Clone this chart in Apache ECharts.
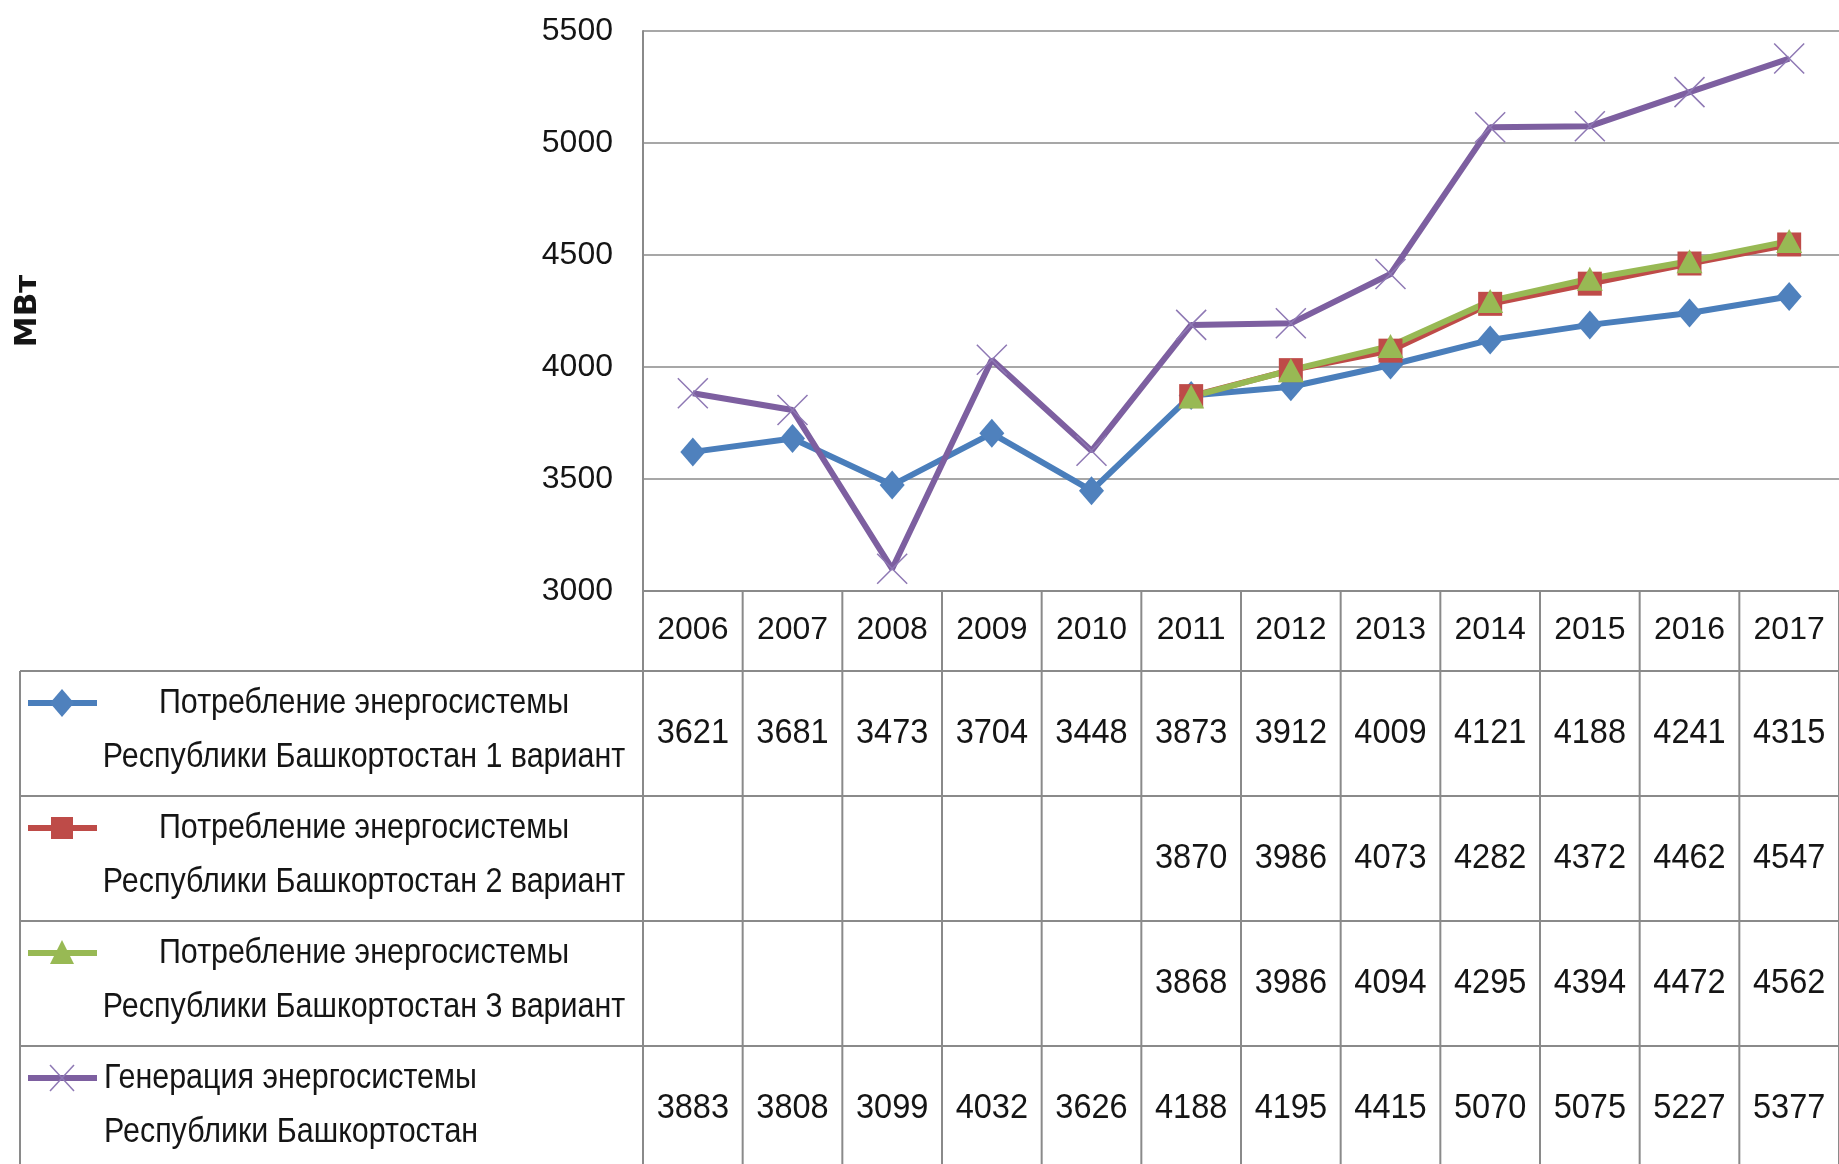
<!DOCTYPE html>
<html>
<head>
    <meta charset="utf-8">
    <title>МВт</title>
    <style>
        html, body { margin: 0; padding: 0; background: #fff; }
        #main { width: 1839px; height: 1164px; }
    </style>
</head>
<body>
    <div id="main"></div>
    <script src="https://cdn.jsdelivr.net/npm/echarts@6/dist/echarts.min.js"></script>
    <script>
        // данные
        var years = ['2006', '2007', '2008', '2009', '2010', '2011', '2012', '2013', '2014', '2015', '2016', '2017'];
        var variant1 = [3621, 3681, 3473, 3704, 3448, 3873, 3912, 4009, 4121, 4188, 4241, 4315];
        var variant2 = [null, null, null, null, null, 3870, 3986, 4073, 4282, 4372, 4462, 4547];
        var variant3 = [null, null, null, null, null, 3868, 3986, 4094, 4295, 4394, 4472, 4562];
        var generation = [3883, 3808, 3099, 4032, 3626, 4188, 4195, 4415, 5070, 5075, 5227, 5377];
        var yMin = 3000, yMax = 5500, yStep = 500;
        var names = [
            'Потребление энергосистемы Республики Башкортостан 1 вариант',
            'Потребление энергосистемы Республики Башкортостан 2 вариант',
            'Потребление энергосистемы Республики Башкортостан 3 вариант',
            'Генерация энергосистемы Республики Башкортостан'
        ];
        var labelLines = [
            ['Потребление энергосистемы', 'Республики Башкортостан 1 вариант'],
            ['Потребление энергосистемы', 'Республики Башкортостан 2 вариант'],
            ['Потребление энергосистемы', 'Республики Башкортостан 3 вариант'],
            ['Генерация энергосистемы', 'Республики Башкортостан']
        ];

        var FONT = "'Liberation Sans', sans-serif";
        var GRID_C = '#8a8a8a';
        var TXT = '#151515';
        var colors = ['#4A7EBB', '#BE4B48', '#98B954', '#7D5FA0'];

        var chart = echarts.init(document.getElementById('main'));

        var option = {
            backgroundColor: '#fff',
            animation: false,
            grid: { left: 643, top: 31, width: 1198, height: 560 },
            xAxis: {
                type: 'category',
                data: years,
                boundaryGap: true,
                axisLine: { lineStyle: { color: GRID_C, width: 2 } },
                axisTick: { show: false },
                axisLabel: { color: TXT, fontSize: 32, fontFamily: FONT, margin: 23, interval: 0 }
            },
            yAxis: {
                type: 'value',
                min: yMin,
                max: yMax,
                interval: yStep,
                name: 'МВт',
                nameLocation: 'middle',
                nameRotate: 90,
                nameGap: 600,
                nameTextStyle: { color: TXT, fontSize: 31, fontWeight: 'bold', fontFamily: "'DejaVu Sans', sans-serif" },
                axisLine: { show: true, lineStyle: { color: GRID_C, width: 2 } },
                axisTick: { show: false },
                splitLine: { lineStyle: { color: GRID_C, width: 1.5 } },
                axisLabel: {
                    color: TXT, fontSize: 32, fontFamily: FONT, margin: 30,
                    formatter: function (v) { return String(v); }
                }
            },
            series: [
                {
                    name: names[0], type: 'line', data: variant1,
                    symbol: 'diamond', symbolSize: [25, 29],
                    lineStyle: { color: colors[0], width: 6 },
                    itemStyle: { color: '#4F81BD' }
                },
                {
                    name: names[1], type: 'line', data: variant2,
                    symbol: 'rect', symbolSize: 24,
                    lineStyle: { color: colors[1], width: 6 },
                    itemStyle: { color: colors[1] }
                },
                {
                    name: names[2], type: 'line', data: variant3,
                    symbol: 'triangle', symbolSize: [26, 24],
                    lineStyle: { color: colors[2], width: 6 },
                    itemStyle: { color: colors[2] }
                },
                {
                    name: names[3], type: 'line', data: generation,
                    symbol: 'path://M0,0L20,20M20,0L0,20', symbolSize: 30,
                    lineStyle: { color: colors[3], width: 6 },
                    itemStyle: { color: 'none', borderColor: '#8E78B4', borderWidth: 1.5 }
                }
            ]
        };
        chart.setOption(option);

        // таблица данных под графиком
        var centers = years.map(function (y) {
            return chart.convertToPixel({ xAxisIndex: 0 }, y);
        });
        var band = centers[1] - centers[0];
        var axisY = chart.convertToPixel({ yAxisIndex: 0 }, yMin);
        var tableTop = 671, rowH = 125, tableLeft = 20, bottom = 1164;
        var rightX = centers[centers.length - 1] + band / 2;
        var g = [];

        function hline(x1, x2, y) {
            g.push({ type: 'line', shape: { x1: x1, y1: y, x2: x2, y2: y }, style: { stroke: GRID_C, lineWidth: 2 }, z: 10 });
        }
        function vline(x, y1, y2) {
            g.push({ type: 'line', shape: { x1: x, y1: y1, x2: x, y2: y2 }, style: { stroke: GRID_C, lineWidth: 2 }, z: 10 });
        }
        function label(t, x, y, size, sx, align) {
            g.push({
                type: 'text', x: x, y: y, scaleX: sx, z: 11,
                style: { text: t, fill: TXT, font: size + 'px ' + FONT, align: align, verticalAlign: 'middle' }
            });
        }

        for (var r = 0; r < 4; r++) hline(tableLeft, rightX + 2, tableTop + r * rowH);
        vline(tableLeft, tableTop, bottom);
        for (var k = 0; k <= years.length; k++) {
            vline(centers[0] - band / 2 + k * band, axisY, bottom);
        }

        var rows = [variant1, variant2, variant3, generation];
        rows.forEach(function (vals, r) {
            var cy = tableTop + r * rowH + rowH / 2;
            vals.forEach(function (v, i) {
                if (v === null) return;
                label(String(v), centers[i], cy, 35, 0.93, 'center');
            });
        });

        // легенда в левом столбце
        rows.forEach(function (vals, r) {
            var top = tableTop + r * rowH;
            var ly = top + 32;
            var col = colors[r];
            g.push({ type: 'line', shape: { x1: 28, y1: ly, x2: 97, y2: ly }, style: { stroke: col, lineWidth: 6 }, z: 11 });
            if (r === 0) {
                g.push({ type: 'polygon', shape: { points: [[62, ly - 14], [74, ly], [62, ly + 14], [50, ly]] }, style: { fill: '#4F81BD' }, z: 12 });
            } else if (r === 1) {
                g.push({ type: 'rect', shape: { x: 51, y: ly - 11, width: 22, height: 22 }, style: { fill: col }, z: 12 });
            } else if (r === 2) {
                g.push({ type: 'polygon', shape: { points: [[62, ly - 13], [74, ly + 11], [50, ly + 11]] }, style: { fill: col }, z: 12 });
            } else {
                g.push({ type: 'line', shape: { x1: 50, y1: ly - 13, x2: 74, y2: ly + 13 }, style: { stroke: '#8E78B4', lineWidth: 1.5 }, z: 12 });
                g.push({ type: 'line', shape: { x1: 74, y1: ly - 13, x2: 50, y2: ly + 13 }, style: { stroke: '#8E78B4', lineWidth: 1.5 }, z: 12 });
            }
            var alignLeft = (r === 3);
            labelLines[r].forEach(function (t, j) {
                label(t, alignLeft ? 104 : 364, ly + j * 54, 35, 0.87, alignLeft ? 'left' : 'center');
            });
        });

        chart.setOption({ graphic: g });
    </script>
</body>
</html>
